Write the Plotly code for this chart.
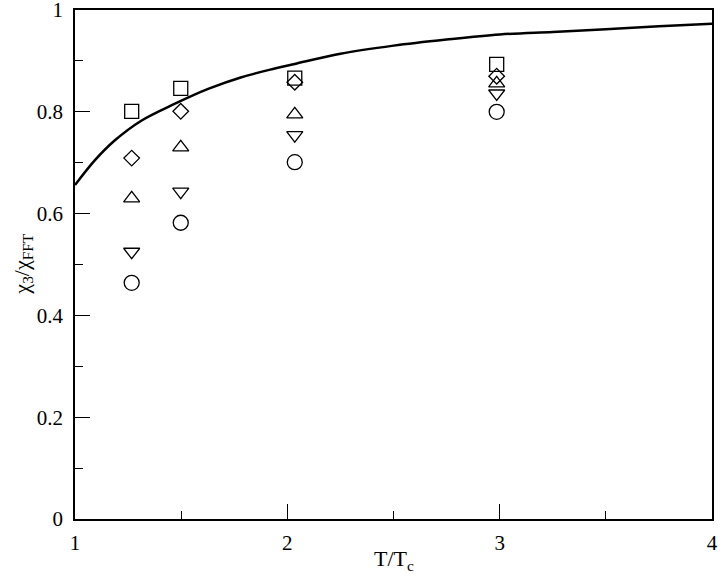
import plotly.graph_objects as go

# Data points (T/Tc columns)
t_pts = [1.267, 1.498, 2.035, 2.986]
sq_vals = [0.801, 0.846, 0.866, 0.893]
dia_vals = [0.709, 0.801, 0.858, 0.870]
tri_up_vals = [0.630, 0.730, 0.795, 0.856]
tri_dn_vals = [0.525, 0.643, 0.754, 0.836]
circ_vals = [0.464, 0.582, 0.701, 0.800]

# Curve
curve_t = [1.0, 1.094, 1.188, 1.314, 1.471, 1.627, 1.784, 1.941, 2.035, 2.25, 2.5, 2.75, 3.0, 3.25, 3.5, 3.75, 4.0]
curve_v = [0.656, 0.705, 0.744, 0.783, 0.816, 0.845, 0.868, 0.885, 0.894, 0.914, 0.930, 0.942, 0.952, 0.957, 0.962, 0.968, 0.973]

fig = go.Figure()
fig.add_trace(go.Scatter(x=curve_t, y=curve_v, mode="lines", line=dict(color="black", width=2.5, shape="spline"),
                         showlegend=False, hoverinfo="skip"))

series = [
    (sq_vals, "square-open", 14),
    (dia_vals, "diamond-open", 12),
    (tri_up_vals, "triangle-up-open", 14),
    (tri_dn_vals, "triangle-down-open", 14),
    (circ_vals, "circle-open", 15),
]
for vals, sym, sz in series:
    fig.add_trace(go.Scatter(x=t_pts, y=vals, mode="markers",
                             marker=dict(symbol=sym, size=sz, color="black", line=dict(color="black", width=1.3)),
                             showlegend=False))

font = "Liberation Serif"
fig.update_layout(
    width=720, height=581,
    margin=dict(l=75, r=7.5, t=9.5, b=61.5, autoexpand=False),
    paper_bgcolor="white", plot_bgcolor="white",
    font=dict(family=font, size=21, color="black"),
)
fig.update_xaxes(
    range=[1, 4], tickmode="linear", tick0=1, dtick=1,
    ticks="inside", ticklen=15, tickwidth=1.3, tickcolor="black",
    minor=dict(ticks="inside", ticklen=8, dtick=0.5, tickcolor="black", tickwidth=1.3, showgrid=False),
    showline=True, linecolor="black", linewidth=1.5, mirror=True,
    showgrid=False, zeroline=False, automargin=False, ticklabeloverflow="allow",
    tickfont=dict(family=font, size=21), ticklabelstandoff=4,
)
fig.update_yaxes(
    range=[0, 1], tickmode="linear", tick0=0, dtick=0.2,
    ticks="inside", ticklen=15, tickwidth=1.3, tickcolor="black",
    minor=dict(ticks="inside", ticklen=8, dtick=0.1, tickcolor="black", tickwidth=1.3, showgrid=False),
    showline=True, linecolor="black", linewidth=1.5, mirror=True,
    showgrid=False, zeroline=False, automargin=False, ticklabeloverflow="allow",
    tickfont=dict(family=font, size=21), ticklabelstandoff=6,
)
fig.add_annotation(text="T/T<sub>c</sub>", xref="paper", yref="paper", x=0.5, y=-0.05,
                   xanchor="center", yanchor="top", showarrow=False,
                   font=dict(family=font, size=22))
fig.add_annotation(text="χ<sub>3</sub>/χ<sub>FFT</sub>", xref="paper", yref="paper", x=-0.083, y=0.5,
                   xanchor="center", yanchor="middle", textangle=-90, showarrow=False,
                   font=dict(family=font, size=22))

# remove the page's default body margin so the figure sits at the window's corner
fig.write_html("out.html", config={"displayModeBar": False},
               post_script="document.body.style.margin='0';document.body.style.overflow='hidden';")
